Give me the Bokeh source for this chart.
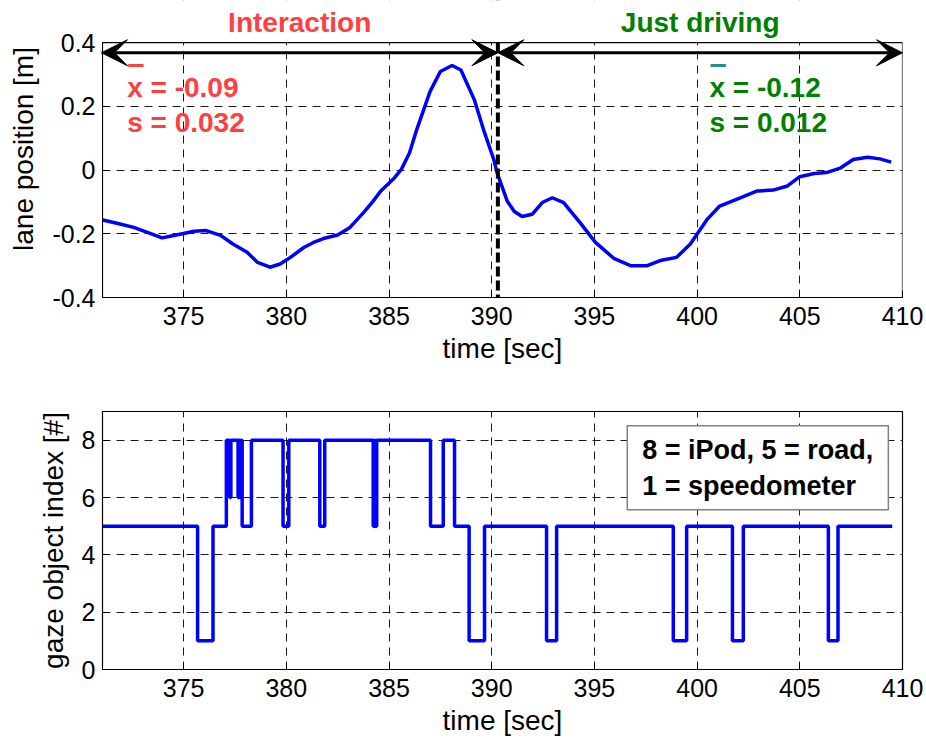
from bokeh.plotting import figure
from bokeh.layouts import column
from bokeh.models import Range1d, FixedTicker, Label, Arrow, VeeHead, Span, BoxAnnotation
from bokeh.embed import file_html
from bokeh.resources import INLINE

# lateral lane position over time
lane_t = [371.06, 371.8, 372.57, 373.3, 373.95, 374.4, 375.0, 375.5, 376.1, 376.8,
          377.4, 378.09, 378.6, 379.2, 379.7, 380.2, 380.85, 381.3, 381.8, 382.5,
          383.1, 383.77, 384.2, 384.6, 385.2, 385.6, 386.0, 386.35, 387.0, 387.5,
          388.07, 388.5, 389.15, 389.6, 390.1, 390.26, 390.75, 391.1, 391.48, 391.97,
          392.46, 392.95, 393.5, 394.3, 395.05, 395.94, 396.76, 397.57, 398.2, 399.0,
          399.67, 400.5, 401.1, 402.1, 402.9, 403.7, 404.4, 405.0, 405.7, 406.3,
          407.0, 407.6, 408.3, 408.9, 409.45]
lane_pos = [-0.157, -0.168, -0.180, -0.197, -0.213, -0.207, -0.199, -0.192, -0.190, -0.205,
            -0.232, -0.258, -0.290, -0.305, -0.295, -0.274, -0.243, -0.228, -0.215, -0.204,
            -0.180, -0.133, -0.100, -0.066, -0.029, 0.002, 0.054, 0.127, 0.247, 0.309,
            0.328, 0.314, 0.221, 0.127, 0.033, -0.008, -0.097, -0.130, -0.146, -0.139,
            -0.102, -0.087, -0.102, -0.165, -0.227, -0.277, -0.300, -0.300, -0.284, -0.274,
            -0.232, -0.154, -0.113, -0.087, -0.066, -0.063, -0.050, -0.021, -0.011, -0.008,
            0.007, 0.033, 0.040, 0.035, 0.025]

# gaze object index: time of each change and the object looked at from then on
gaze_t = [371.06, 375.68, 376.43, 377.08, 377.25, 377.30, 377.65, 377.70, 377.75, 377.80,
          377.85, 378.30, 379.84, 380.12, 381.63, 381.87, 384.23, 384.28, 384.32, 384.40,
          387.02, 387.64, 388.19, 388.90, 389.65, 392.67, 393.16, 398.84, 399.49, 401.72,
          402.25, 406.39, 406.86, 409.50]
gaze_obj = [5, 1, 5, 8, 6, 8, 6, 8, 6, 8,
            5, 8, 5, 8, 5, 8, 5, 8, 5, 8,
            5, 8, 5, 1, 5, 1, 5, 1, 5, 1,
            5, 1, 5, 5]

# phases of the drive
phase_bounds = [371.0, 390.3, 410.0]
phase_names = ["Interaction", "Just driving"]
phase_colors = ["#ff4040", "#008000"]
bar_colors = ["#ff4040", "#1f8f8f"]
phase_means = ["-0.09", "-0.12"]
phase_sds = ["0.032", "0.012"]
stat_x = [372.25, 400.6]

time_ticks = [375, 380, 385, 390, 395, 400, 405, 410]
lane_ticks = [-0.4, -0.2, 0, 0.2, 0.4]
lane_tick_labels = ["-0.4", "-0.2", "0", "0.2", "0.4"]
gaze_ticks = [0, 2, 4, 6, 8]
gaze_note = "8 = iPod, 5 = road,\n1 = speedometer"

FONT = "Liberation Sans"
BLUE = "#0000ff"
time_range = Range1d(371.05, 410)


def styled_figure(height, y_range, y_ticks, y_label, border_top, border_bottom):
    p = figure(width=926, height=height, x_range=time_range, y_range=y_range,
               output_backend="svg", toolbar_location=None,
               min_border_left=102, min_border_right=24,
               min_border_top=border_top, min_border_bottom=border_bottom)
    p.background_fill_color = "white"
    p.border_fill_color = "white"
    p.outline_line_color = "black"
    p.outline_line_width = 1.2
    p.outline_line_alpha = 1.0

    xax = p.below[0]
    yax = p.left[0]
    xax.ticker = FixedTicker(ticks=time_ticks)
    yax.ticker = FixedTicker(ticks=y_ticks)
    for ax in (xax, yax):
        ax.major_tick_in = 7
        ax.major_tick_out = 0
        ax.minor_tick_in = 0
        ax.minor_tick_out = 0
        ax.axis_line_color = "black"
        ax.major_label_text_font = FONT
        ax.major_label_text_font_size = "25px"
        ax.major_label_text_color = "black"
        ax.axis_label_text_font = FONT
        ax.axis_label_text_font_size = "28px"
        ax.axis_label_text_font_style = "normal"
        ax.axis_label_text_color = "black"
    xax.axis_label = "time [sec]"
    xax.major_label_standoff = 9
    xax.axis_label_standoff = 5
    yax.axis_label = y_label
    yax.major_label_standoff = 7
    yax.axis_label_standoff = 10

    p.grid.grid_line_color = "black"
    p.grid.grid_line_dash = "8 6"
    p.grid.grid_line_width = 1
    p.grid.grid_line_alpha = 0.9
    return p


# --- lane position panel; its plot area also holds the phase titles above y = 0.4 ---
lane_lo, lane_hi = lane_ticks[0], lane_ticks[-1]
top = styled_figure(385, Range1d(lane_lo, 0.532), lane_ticks, "lane position [m]", 0, 88)
top.outline_line_color = None
top.left[0].bounds = (lane_lo, lane_hi)
top.left[0].major_label_overrides = {v: s for v, s in zip(lane_ticks, lane_tick_labels)}

top.line(lane_t, lane_pos, line_color=BLUE, line_width=3.5)
top.add_layout(Span(location=phase_bounds[1], dimension="height", line_color="black",
                    line_width=4, line_dash="10 4"))
# blank strip above the axes box, then the box itself
top.add_layout(BoxAnnotation(bottom=lane_hi, fill_color="white", fill_alpha=1.0,
                             line_color=None))
top.add_layout(BoxAnnotation(bottom=lane_lo, top=lane_hi, fill_color=None,
                             line_color="black", line_width=1.2, line_alpha=1.0))

arrow_y = 0.368
for i in range(2):
    top.add_layout(Arrow(x_start=phase_bounds[i], x_end=phase_bounds[i + 1],
                         y_start=arrow_y, y_end=arrow_y, line_color="black", line_width=3,
                         start=VeeHead(size=26, fill_color="black", line_color="black"),
                         end=VeeHead(size=26, fill_color="black", line_color="black")))
    mid = (phase_bounds[i] + phase_bounds[i + 1]) / 2
    top.add_layout(Label(x=mid, y=0.463, text=phase_names[i], text_align="center",
                         text_baseline="middle", text_font=FONT, text_font_style="bold",
                         text_font_size="28px", text_color=phase_colors[i]))
    top.add_layout(Label(x=stat_x[i], y=0.335, text="\u2013", text_align="left",
                         text_baseline="middle", text_font=FONT, text_font_style="bold",
                         text_font_size="31px", text_color=bar_colors[i]))
    top.add_layout(Label(x=stat_x[i], y=0.259, text="x = " + phase_means[i], text_align="left",
                         text_baseline="middle", text_font=FONT, text_font_style="bold",
                         text_font_size="28px", text_color=phase_colors[i]))
    top.add_layout(Label(x=stat_x[i], y=0.149, text="s = " + phase_sds[i], text_align="left",
                         text_baseline="middle", text_font=FONT, text_font_style="bold",
                         text_font_size="28px", text_color=phase_colors[i]))

# --- gaze object panel ---
bottom = styled_figure(360, Range1d(0, 9), gaze_ticks, "gaze object index [#]", 26, 76)
bottom.step(gaze_t, gaze_obj, mode="after", line_color=BLUE, line_width=3.5)
bottom.add_layout(Label(x=396.6, y=8.5, text=gaze_note, text_align="left",
                        text_baseline="top", text_font=FONT, text_font_style="bold",
                        text_font_size="27px", text_color="black", text_line_height=1.2,
                        background_fill_color="white", border_line_color="#808080",
                        border_line_width=1.5, padding=(15, 9)))

layout = column(top, bottom, spacing=0)
open("out.html", "w").write(file_html(layout, INLINE))
